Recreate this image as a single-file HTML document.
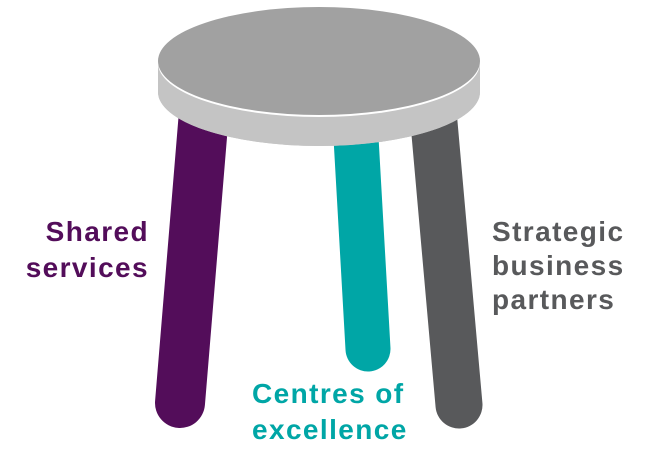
<!DOCTYPE html>
<html><head><meta charset="utf-8"><style>
html,body{margin:0;padding:0;background:#fff;width:670px;height:450px;overflow:hidden}
</style></head><body>
<svg width="670" height="450" viewBox="0 0 670 450" xmlns="http://www.w3.org/2000/svg">
<g stroke-linecap="round">
<line x1="205" y1="100" x2="180" y2="403" stroke="#530d5a" stroke-width="50"/>
<line x1="355" y1="120" x2="368" y2="349" stroke="#00a6a6" stroke-width="45"/>
<line x1="432" y1="100" x2="459" y2="405" stroke="#58595b" stroke-width="47"/>
</g>
<path d="M158,62 L158,92 A161,54 0 0 0 480,92 L480,62 Z" fill="#c4c4c4"/>
<ellipse cx="319" cy="92" rx="161" ry="54" fill="#c4c4c4"/>
<ellipse cx="319" cy="63" rx="161" ry="54" fill="#fff"/>
<ellipse cx="319" cy="61" rx="161" ry="54" fill="#a1a1a1"/>
<g font-family="Liberation Sans, sans-serif" font-weight="bold" font-size="28" letter-spacing="1.4">
<text x="149" y="241" text-anchor="end" fill="#530d5a">Shared</text>
<text x="149" y="277" text-anchor="end" fill="#530d5a">services</text>
<text x="492" y="241" fill="#58595b">Strategic</text>
<text x="492" y="275" fill="#58595b">business</text>
<text x="492" y="309" fill="#58595b">partners</text>
<text x="252" y="403" fill="#00a6a6">Centres of</text>
<text x="252" y="439" fill="#00a6a6">excellence</text>
</g>
</svg>
</body></html>
